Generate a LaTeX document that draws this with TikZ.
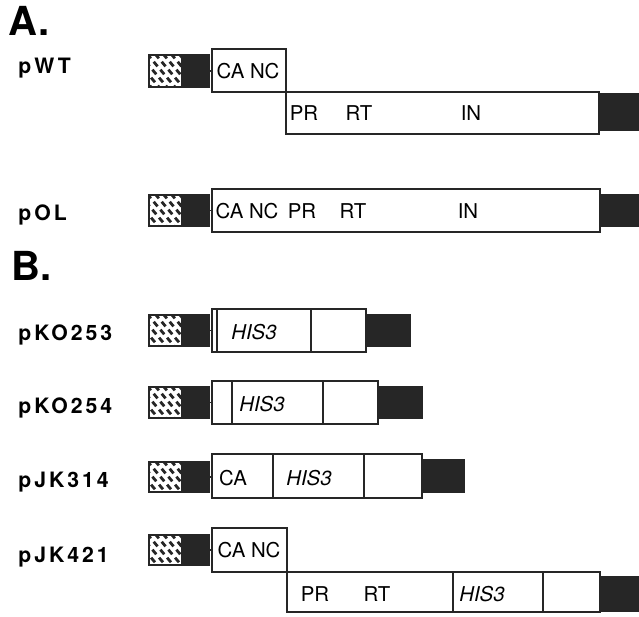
\documentclass[tikz,border=0pt]{standalone}
\usepackage{fontspec}
\setmainfont{TeX Gyre Heros}
\newfontfamily\namefont[LetterSpace=14]{TeX Gyre Heros}
\usetikzlibrary{fit}

\begin{document}
\begin{tikzpicture}[x=0.5pt, y=-0.5pt,
  seg/.style={draw=black!85, line width=0.9pt, fill=white, inner sep=0pt},
  hatch/.style={draw=black!85, line width=0.9pt, fill=white, inner sep=0pt,
                path picture={\foreach \s in {0,...,7}
                  \draw[black!85, line width=1.4pt, dash pattern=on 3pt off 2.2pt]
                    ([xshift=-13pt+\s*4pt, yshift=0.6pt]path picture bounding box.north west) -- ++(16pt,-19pt);}},
  endblk/.style={draw=black!85, fill=black!85, line width=0.9pt, inner sep=0pt},
  txt/.style={inner sep=0pt, font=\fontsize{10.2}{12}\selectfont},
  gene/.style={inner sep=0pt, font=\fontsize{10.2}{12}\selectfont\itshape},
  plas/.style={anchor=base west, inner sep=0pt, font=\namefont\bfseries\fontsize{10.6}{12}\selectfont},
  part/.style={anchor=base west, inner sep=0pt, font=\bfseries\fontsize{20}{22}\selectfont},
  link/.style={draw=black!85, line width=0.9pt}]
  \useasboundingbox (0,0) rectangle (639,617);

  % A. wild type and overlap constructs
  \node[part] (partA) at (8,35) {A.};
  \node[plas] (nWT) at (18,73) {pWT};
  \node[hatch, fit={(149,55) (182,87)}] (hWT) {};
  \node[endblk, fit={(182,55) (209,87)}] (bWT) {};
  \node[seg, fit={(212,49) (286,92)}] (caWT) {};
  \node[seg, fit={(286,92) (599,134)}] (polWT) {};
  \node[endblk, fit={(599,94) (639,130)}] (eWT) {};
  \node[txt] (cnWT) at (248,71) {CA NC};
  \node[txt] (prWT) at (304,113) {PR};
  \node[txt] (rtWT) at (359,113) {RT};
  \node[txt] (inWT) at (471,113) {IN};

  \node[plas] (nOL) at (18,220) {pOL};
  \node[hatch, fit={(149,195) (182,226)}] (hOL) {};
  \node[endblk, fit={(182,195) (209,226)}] (bOL) {};
  \node[seg, fit={(212,189) (600,232)}] (boxOL) {};
  \node[endblk, fit={(600,195) (639,226)}] (eOL) {};
  \node[txt] (caOL) at (247,211) {CA NC};
  \node[txt] (prOL) at (302,211) {PR};
  \node[txt] (rtOL) at (353,211) {RT};
  \node[txt] (inOL) at (468,211) {IN};

  % B. HIS3 fusions
  \node[part] (partB) at (11,280) {B.};
  \node[plas] (nK253) at (18,340) {pKO253};
  \node[hatch, fit={(149,315) (182,346)}] (hK253) {};
  \node[endblk, fit={(182,315) (209,346)}] (bK253) {};
  \node[seg, fit={(212,309) (217,352)}] (aK253) {};
  \node[seg, fit={(217,309) (311,352)}] (sK253) {};
  \node[seg, fit={(311,309) (366,352)}] (cK253) {};
  \node[endblk, fit={(366,315) (410,346)}] (eK253) {};
  \node[gene] (hisK253) at (254,332) {HIS3};

  \node[plas] (nK254) at (18,413) {pKO254};
  \node[hatch, fit={(149,387) (182,418)}] (hK254) {};
  \node[endblk, fit={(182,387) (209,418)}] (bK254) {};
  \node[seg, fit={(212,381) (232,424)}] (aK254) {};
  \node[seg, fit={(232,381) (323,424)}] (sK254) {};
  \node[seg, fit={(323,381) (378,424)}] (cK254) {};
  \node[endblk, fit={(378,387) (422,418)}] (eK254) {};
  \node[gene] (hisK254) at (262,404) {HIS3};

  \node[plas] (nJ314) at (18,487) {pJK314};
  \node[hatch, fit={(149,462) (182,492)}] (hJ314) {};
  \node[endblk, fit={(182,462) (209,492)}] (bJ314) {};
  \node[seg, fit={(212,454) (273,498)}] (aJ314) {};
  \node[seg, fit={(273,454) (364,498)}] (sJ314) {};
  \node[seg, fit={(364,454) (422,498)}] (cJ314) {};
  \node[endblk, fit={(422,460) (464,492)}] (eJ314) {};
  \node[txt] (caJ314) at (233,478) {CA};
  \node[gene] (hisJ314) at (309,478) {HIS3};

  \node[plas] (nJ421) at (18,562) {pJK421};
  \node[hatch, fit={(149,535) (182,565)}] (hJ421) {};
  \node[endblk, fit={(182,535) (209,565)}] (bJ421) {};
  \node[seg, fit={(212,528) (287,572)}] (caJ421) {};
  \node[seg, fit={(287,572) (453,612)}] (polJ421) {};
  \node[seg, fit={(453,572) (543,612)}] (sJ421) {};
  \node[seg, fit={(543,572) (600,612)}] (cJ421) {};
  \node[endblk, fit={(600,577) (639,611)}] (eJ421) {};
  \node[txt] (cnJ421) at (249,550) {CA NC};
  \node[txt] (prJ421) at (315,594) {PR};
  \node[txt] (rtJ421) at (377,594) {RT};
  \node[gene] (hisJ421) at (482,594) {HIS3};

  \foreach \b/\c in {bWT/caWT, bOL/boxOL, bK253/aK253, bK254/aK254,
                     bJ314/aJ314, bJ421/caJ421}
    \draw[link] (\b.east) -- (\b.east -| \c.west);
\end{tikzpicture}
\end{document}
